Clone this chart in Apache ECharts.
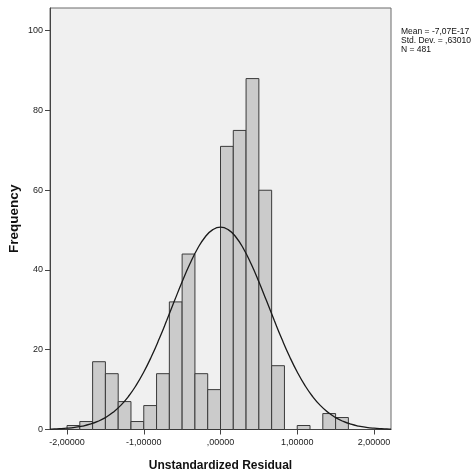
<!DOCTYPE html>
<html>
<head>
<meta charset="utf-8">
<script src="https://cdn.jsdelivr.net/npm/echarts@6/dist/echarts.min.js"></script>
<style>
html,body{margin:0;padding:0;background:#fff;}
#c{width:474px;height:474px;}
</style>
</head>
<body>
<div id="c"></div>
<script>
// Histogram bins (left edge of first bin, bin width) and frequencies
const binStart = -2;
const binWidth = 1 / 6;
const counts = [1, 2, 17, 14, 7, 2, 6, 14, 32, 44, 14, 10, 71, 75, 88, 60, 16, 0, 1, 0, 4, 3];

// Normal curve
const curveX = [-2.222, -2.2, -2.1, -2.0, -1.9, -1.8, -1.7, -1.6, -1.5, -1.4, -1.3, -1.2, -1.1, -1.0, -0.9, -0.8, -0.7, -0.6, -0.5, -0.4, -0.3, -0.2, -0.1, 0.0,
                0.1, 0.2, 0.3, 0.4, 0.5, 0.6, 0.7, 0.8, 0.9, 1.0, 1.1, 1.2, 1.3, 1.4, 1.5, 1.6, 1.7, 1.8, 1.9, 2.0, 2.1, 2.2, 2.222];
const curveY = [0.1, 0.11, 0.2, 0.33, 0.54, 0.86, 1.33, 2.02, 2.98, 4.3, 6.04, 8.28, 11.06, 14.41, 18.3, 22.67, 27.39, 32.26, 37.05, 41.5, 45.32, 48.27, 50.12, 50.76,
                50.12, 48.27, 45.32, 41.5, 37.05, 32.26, 27.39, 22.67, 18.3, 14.41, 11.06, 8.28, 6.04, 4.3, 2.98, 2.02, 1.33, 0.86, 0.54, 0.33, 0.2, 0.11, 0.1];

// Axis ticks
const xTickValues = [-2, -1, 0, 1, 2];
const xTickLabels = ['-2,00000', '-1,00000', ',00000', '1,00000', '2,00000'];
const yTickValues = [0, 20, 40, 60, 80, 100];

// Statistics legend
const statsLines = ['Mean = -7,07E-17', 'Std. Dev. = ,63010', 'N = 481'];

const barData = counts.map((c, i) => [binStart + i * binWidth, binStart + (i + 1) * binWidth, c]).filter(d => d[2] > 0);
const curveData = curveX.map((x, i) => [x, curveY[i]]);

const FONT = '"Liberation Sans", Arial, sans-serif';
const chart = echarts.init(document.getElementById('c'), null, {renderer: 'canvas'});

chart.setOption({
  animation: false,
  backgroundColor: '#ffffff',
  grid: {
    left: 50, right: 83, top: 8, bottom: 44.5,
    containLabel: false, outerBoundsMode: 'none',
    show: true, backgroundColor: '#f0f0f0', borderColor: '#6a6a6a', borderWidth: 1
  },
  xAxis: {
    type: 'value', min: -2.222, max: 2.222,
    name: 'Unstandardized Residual', nameLocation: 'middle', nameGap: 30,
    nameTextStyle: {fontFamily: FONT, fontSize: 12, fontWeight: 'bold', color: '#111'},
    splitLine: {show: false},
    axisLine: {show: true, onZero: false, lineStyle: {color: '#444', width: 1}},
    axisTick: {show: true, inside: false, length: 5, customValues: xTickValues, lineStyle: {color: '#444'}},
    axisLabel: {
      customValues: xTickValues, margin: 9,
      fontFamily: FONT, fontSize: 9, color: '#222',
      formatter: v => { const i = xTickValues.indexOf(v); return i >= 0 ? xTickLabels[i] : ''; }
    }
  },
  yAxis: {
    type: 'value', min: 0, max: 105.7,
    name: 'Frequency', nameLocation: 'middle', nameGap: 29, nameRotate: 90, nameMoveOverlap: false,
    nameTextStyle: {fontFamily: FONT, fontSize: 13.5, fontWeight: 'bold', color: '#111'},
    splitLine: {show: false},
    axisLine: {show: true, onZero: false, lineStyle: {color: '#444', width: 1}},
    axisTick: {show: true, inside: false, length: 5, customValues: yTickValues, lineStyle: {color: '#444'}},
    axisLabel: {customValues: yTickValues, margin: 7, fontFamily: FONT, fontSize: 9, color: '#222'}
  },
  series: [
    {
      type: 'custom',
      data: barData,
      encode: {x: [0, 1], y: 2},
      renderItem: function (params, api) {
        const p0 = api.coord([api.value(0), 0]);
        const p1 = api.coord([api.value(1), api.value(2)]);
        return {
          type: 'rect',
          shape: {x: p0[0], y: p1[1], width: p1[0] - p0[0], height: p0[1] - p1[1]},
          style: {fill: '#cbcbcb', stroke: '#3a3a3a', lineWidth: 1}
        };
      },
      z: 2
    },
    {
      type: 'line',
      data: curveData,
      smooth: true,
      showSymbol: false,
      lineStyle: {color: '#1a1a1a', width: 1.3},
      z: 3
    }
  ],
  graphic: [{
    type: 'text', left: 401, top: 27,
    style: {text: statsLines.join('\n'), font: '8.5px ' + FONT, lineHeight: 9, fill: '#111'}
  }]
});
</script>
</body>
</html>
